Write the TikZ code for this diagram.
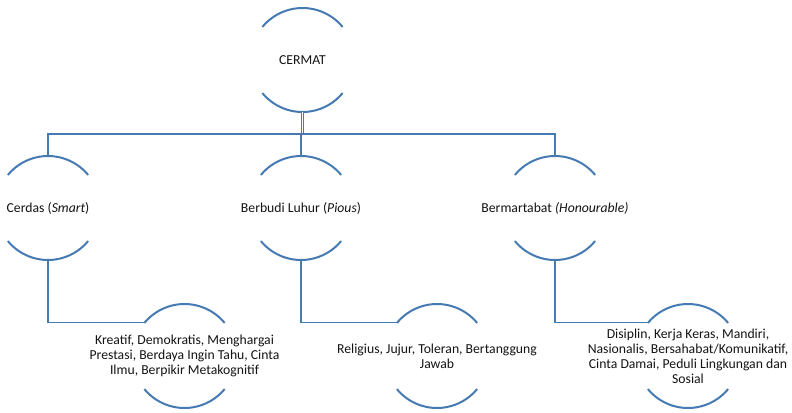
\documentclass[tikz,border=0pt]{standalone}
\usepackage{fontspec}
\setmainfont{Carlito}
\definecolor{arcblue}{RGB}{70,122,178}
\definecolor{txtgray}{RGB}{20,20,20}
\newcommand\Rr{52bp}
\newcommand\twoarcs[1]{%
  \draw[arcline] ([shift={(39.5:\Rr)}]#1.center) arc[start angle=39.5,end angle=140.5,radius=\Rr];
  \draw[arcline] ([shift={(219.5:\Rr)}]#1.center) arc[start angle=219.5,end angle=320.5,radius=\Rr];}
\begin{document}
\begin{tikzpicture}[x=1bp,y=-1bp,
  arcline/.style={draw=arcblue,line width=2bp},
  conn/.style={draw=arcblue,line width=1.8bp},
  ring/.style={circle,minimum size=104bp,inner sep=0pt,draw=none},
  txt/.style={font=\fontsize{13.7bp}{15bp}\selectfont,text=txtgray,align=center,inner sep=0pt}]
\useasboundingbox[fill=white] (0,0) rectangle (792,412);
% ring nodes
\node[ring] (root) at (302.5,60) {};
\node[ring] (c1) at (48,208) {};
\node[ring] (c2) at (301,208) {};
\node[ring] (c3) at (555,208) {};
\node[ring] (g1) at (184.5,356) {};
\node[ring] (g2) at (437,356) {};
\node[ring] (g3) at (688,356) {};
\foreach \n in {root,c1,c2,c3,g1,g2,g3}{\twoarcs{\n}}
% texts
\node[txt] (roott) at (root) {CERMAT};
\node[txt] (c1t) at (c1) {Cerdas (\textit{Smart})};
\node[txt] (c2t) at (c2) {Berbudi Luhur (\textit{Pious})};
\node[txt] (c3t) at (c3) {Bermartabat \textit{(Honourable)}};
\node[txt] (g1t) at (g1) {Kreatif, Demokratis, Menghargai\\Prestasi, Berdaya Ingin Tahu, Cinta\\Ilmu, Berpikir Metakognitif};
\node[txt] (g2t) at (g2) {Religius, Jujur, Toleran, Bertanggung\\Jawab};
\node[txt] (g3t) at (g3) {Disiplin, Kerja Keras, Mandiri,\\Nasionalis, Bersahabat/Komunikatif,\\Cinta Damai, Peduli Lingkungan dan\\Sosial};
% connectors
\coordinate (bar) at (301,134);
\draw[arcblue,line width=1.2bp,double=white,double distance=1.2bp] (root.south) -- (root.south |- bar);
\draw[conn] (c1.north) -- (c1.north |- bar) -| (c3.north);
\draw[conn] (c2.north) -- (c2.north |- bar);
\draw[conn] (c1.south) |- (g1.140.5);
\draw[conn] (c2.south) |- (g2.140.5);
\draw[conn] (c3.south) |- (g3.140.5);
\end{tikzpicture}
\end{document}
